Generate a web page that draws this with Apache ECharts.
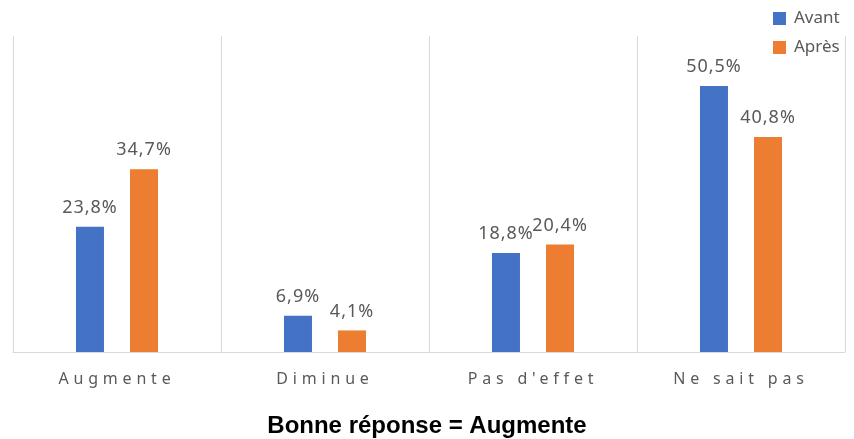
<!DOCTYPE html>
<html><head><meta charset="utf-8">
<script src="https://cdn.jsdelivr.net/npm/echarts@6/dist/echarts.min.js"></script>
<style>html,body{margin:0;padding:0;background:#fff}#c{width:854px;height:439px}</style>
</head><body><div id="c"></div>
<script>
const categories = ["Augmente", "Diminue", "Pas d'effet", "Ne sait pas"];
const avant = [23.8, 6.9, 18.8, 50.5];
const apres = [34.7, 4.1, 20.4, 40.8];
const seriesNames = ["Avant", "Après"];
const title = "Bonne réponse = Augmente";

// Excel-like letter spacing for category labels and value labels
(function(){
  const proto = CanvasRenderingContext2D.prototype;
  if (!('letterSpacing' in proto)) return;
  const orig = proto.fillText;
  proto.fillText = function(t, x, y, m){
    let ls = '0px';
    if (categories.indexOf(t) >= 0) ls = '4.8px';
    else if (/%$/.test(t)) ls = '1px';
    this.letterSpacing = ls;
    const r = m === undefined ? orig.call(this, t, x, y) : orig.call(this, t, x, y, m);
    this.letterSpacing = '0px';
    return r;
  };
})();

const chart = echarts.init(document.getElementById('c'));
const fmt = p => p.value.toFixed(1).replace('.', ',') + '%';
chart.setOption({
  animation: false,
  title: { text: title, left: 'center', top: 409, textStyle: { fontFamily: 'Liberation Sans', fontWeight: 'bold', fontSize: 24, color: '#000' } },
  legend: { orient: 'vertical', left: 768, top: 5, itemWidth: 13, itemHeight: 13, itemGap: 12,
    textStyle: { fontFamily: 'Noto Sans', fontSize: 17, color: '#595959', padding: [0, 0, 0, 3] }, icon: 'rect' },
  grid: { left: 13, right: 9, top: 36, bottom: 87 },
  xAxis: { type: 'category', data: categories,
    axisLine: { lineStyle: { color: '#d9d9d9' } }, axisTick: { show: false },
    splitLine: { show: true, lineStyle: { color: '#d9d9d9', width: 1 } },
    axisLabel: { margin: 19, fontFamily: 'Noto Sans', fontSize: 16, color: '#595959' } },
  yAxis: { type: 'value', min: 0, max: 60, show: false, splitLine: { show: false } },
  series: [
    { name: seriesNames[0], type: 'bar', data: avant, barWidth: 28, barGap: '93%', itemStyle: { color: '#4472C4' },
      label: { show: true, position: 'top', distance: 10, formatter: fmt, fontFamily: 'Noto Sans', fontSize: 18, color: '#595959' } },
    { name: seriesNames[1], type: 'bar', data: apres, barWidth: 28, itemStyle: { color: '#ED7D31' },
      label: { show: true, position: 'top', distance: 10, formatter: fmt, fontFamily: 'Noto Sans', fontSize: 18, color: '#595959' } }
  ]
});
</script></body></html>
